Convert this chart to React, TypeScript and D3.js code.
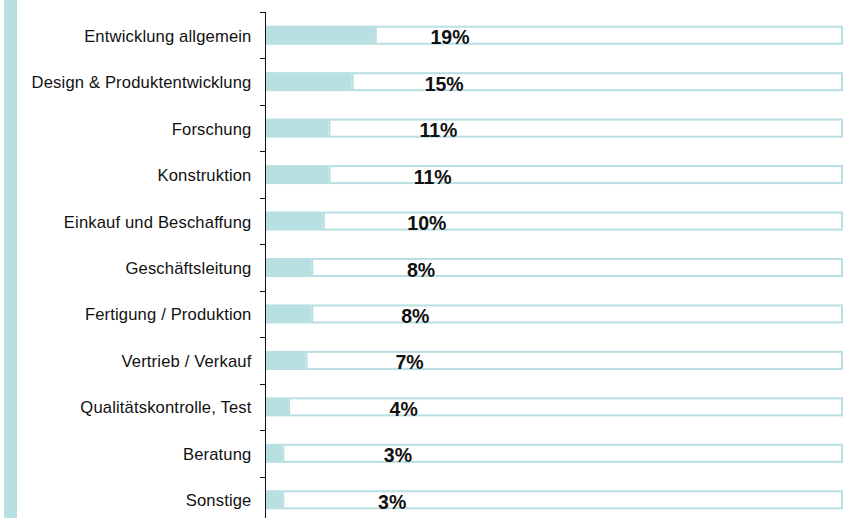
import React from "react";
import * as d3 from "d3";

const categories = [
  "Entwicklung allgemein",
  "Design & Produktentwicklung",
  "Forschung",
  "Konstruktion",
  "Einkauf und Beschaffung",
  "Geschäftsleitung",
  "Fertigung / Produktion",
  "Vertrieb / Verkauf",
  "Qualitätskontrolle, Test",
  "Beratung",
  "Sonstige",
];
const values = [19, 15, 11, 11, 10, 8, 8, 7, 4, 3, 3];
const total = 100;

const W = 848;
const H = 518;
const TEAL = "#b8dfe2";
const FONT = "'Liberation Sans', Arial, Helvetica, sans-serif";

export default function App() {
  const x = d3.scaleLinear().domain([0, total]).range([265, 843]);
  const y = d3
    .scaleBand<string>()
    .domain(categories)
    .range([12, 523])
    .paddingInner(0.59)
    .paddingOuter(0.295);
  const bw = y.bandwidth();
  const step = y.step();
  const labelX = d3
    .scaleLinear()
    .domain([0, categories.length - 1])
    .range([x(32), x(22)]);
  const ticks = d3.range(categories.length + 1).map((i) => 12 + i * step);

  return (
    <svg
      width={W}
      height={H}
      style={{ position: "absolute", left: 0, top: 0, background: "#fff" }}
      fontFamily={FONT}
    >
      <rect x={4} y={0} width={13} height={H} fill={TEAL} />
      {categories.map((c, i) => {
        const v = values[i];
        const yy = y(c)!;
        return (
          <g key={c}>
            <rect x={x(0)} y={yy} width={x(v) - x(0)} height={bw} fill={TEAL} />
            <rect
              x={x(v) + 1}
              y={yy + 1}
              width={x(total) - x(v) - 2}
              height={bw - 2}
              fill="#fff"
              stroke={TEAL}
              strokeWidth={2}
            />
            <text
              x={251.5}
              y={yy + bw / 2 + 6.5}
              textAnchor="end"
              fontSize={16.6}
              letterSpacing={0.15}
              fill="#111"
            >
              {c}
            </text>
            <text
              x={labelX(i)}
              y={yy + bw - 0.5}
              textAnchor="middle"
              fontSize={19.5}
              fontWeight="bold"
              fill="#111"
            >
              {v}%
            </text>
          </g>
        );
      })}
      <line x1={265.5} x2={265.5} y1={12} y2={H} stroke="#111" strokeWidth={1} />
      {ticks.map((t, i) => (
        <line
          key={i}
          x1={260}
          x2={266}
          y1={Math.round(t) + 0.5}
          y2={Math.round(t) + 0.5}
          stroke="#111"
          strokeWidth={1}
        />
      ))}
    </svg>
  );
}
